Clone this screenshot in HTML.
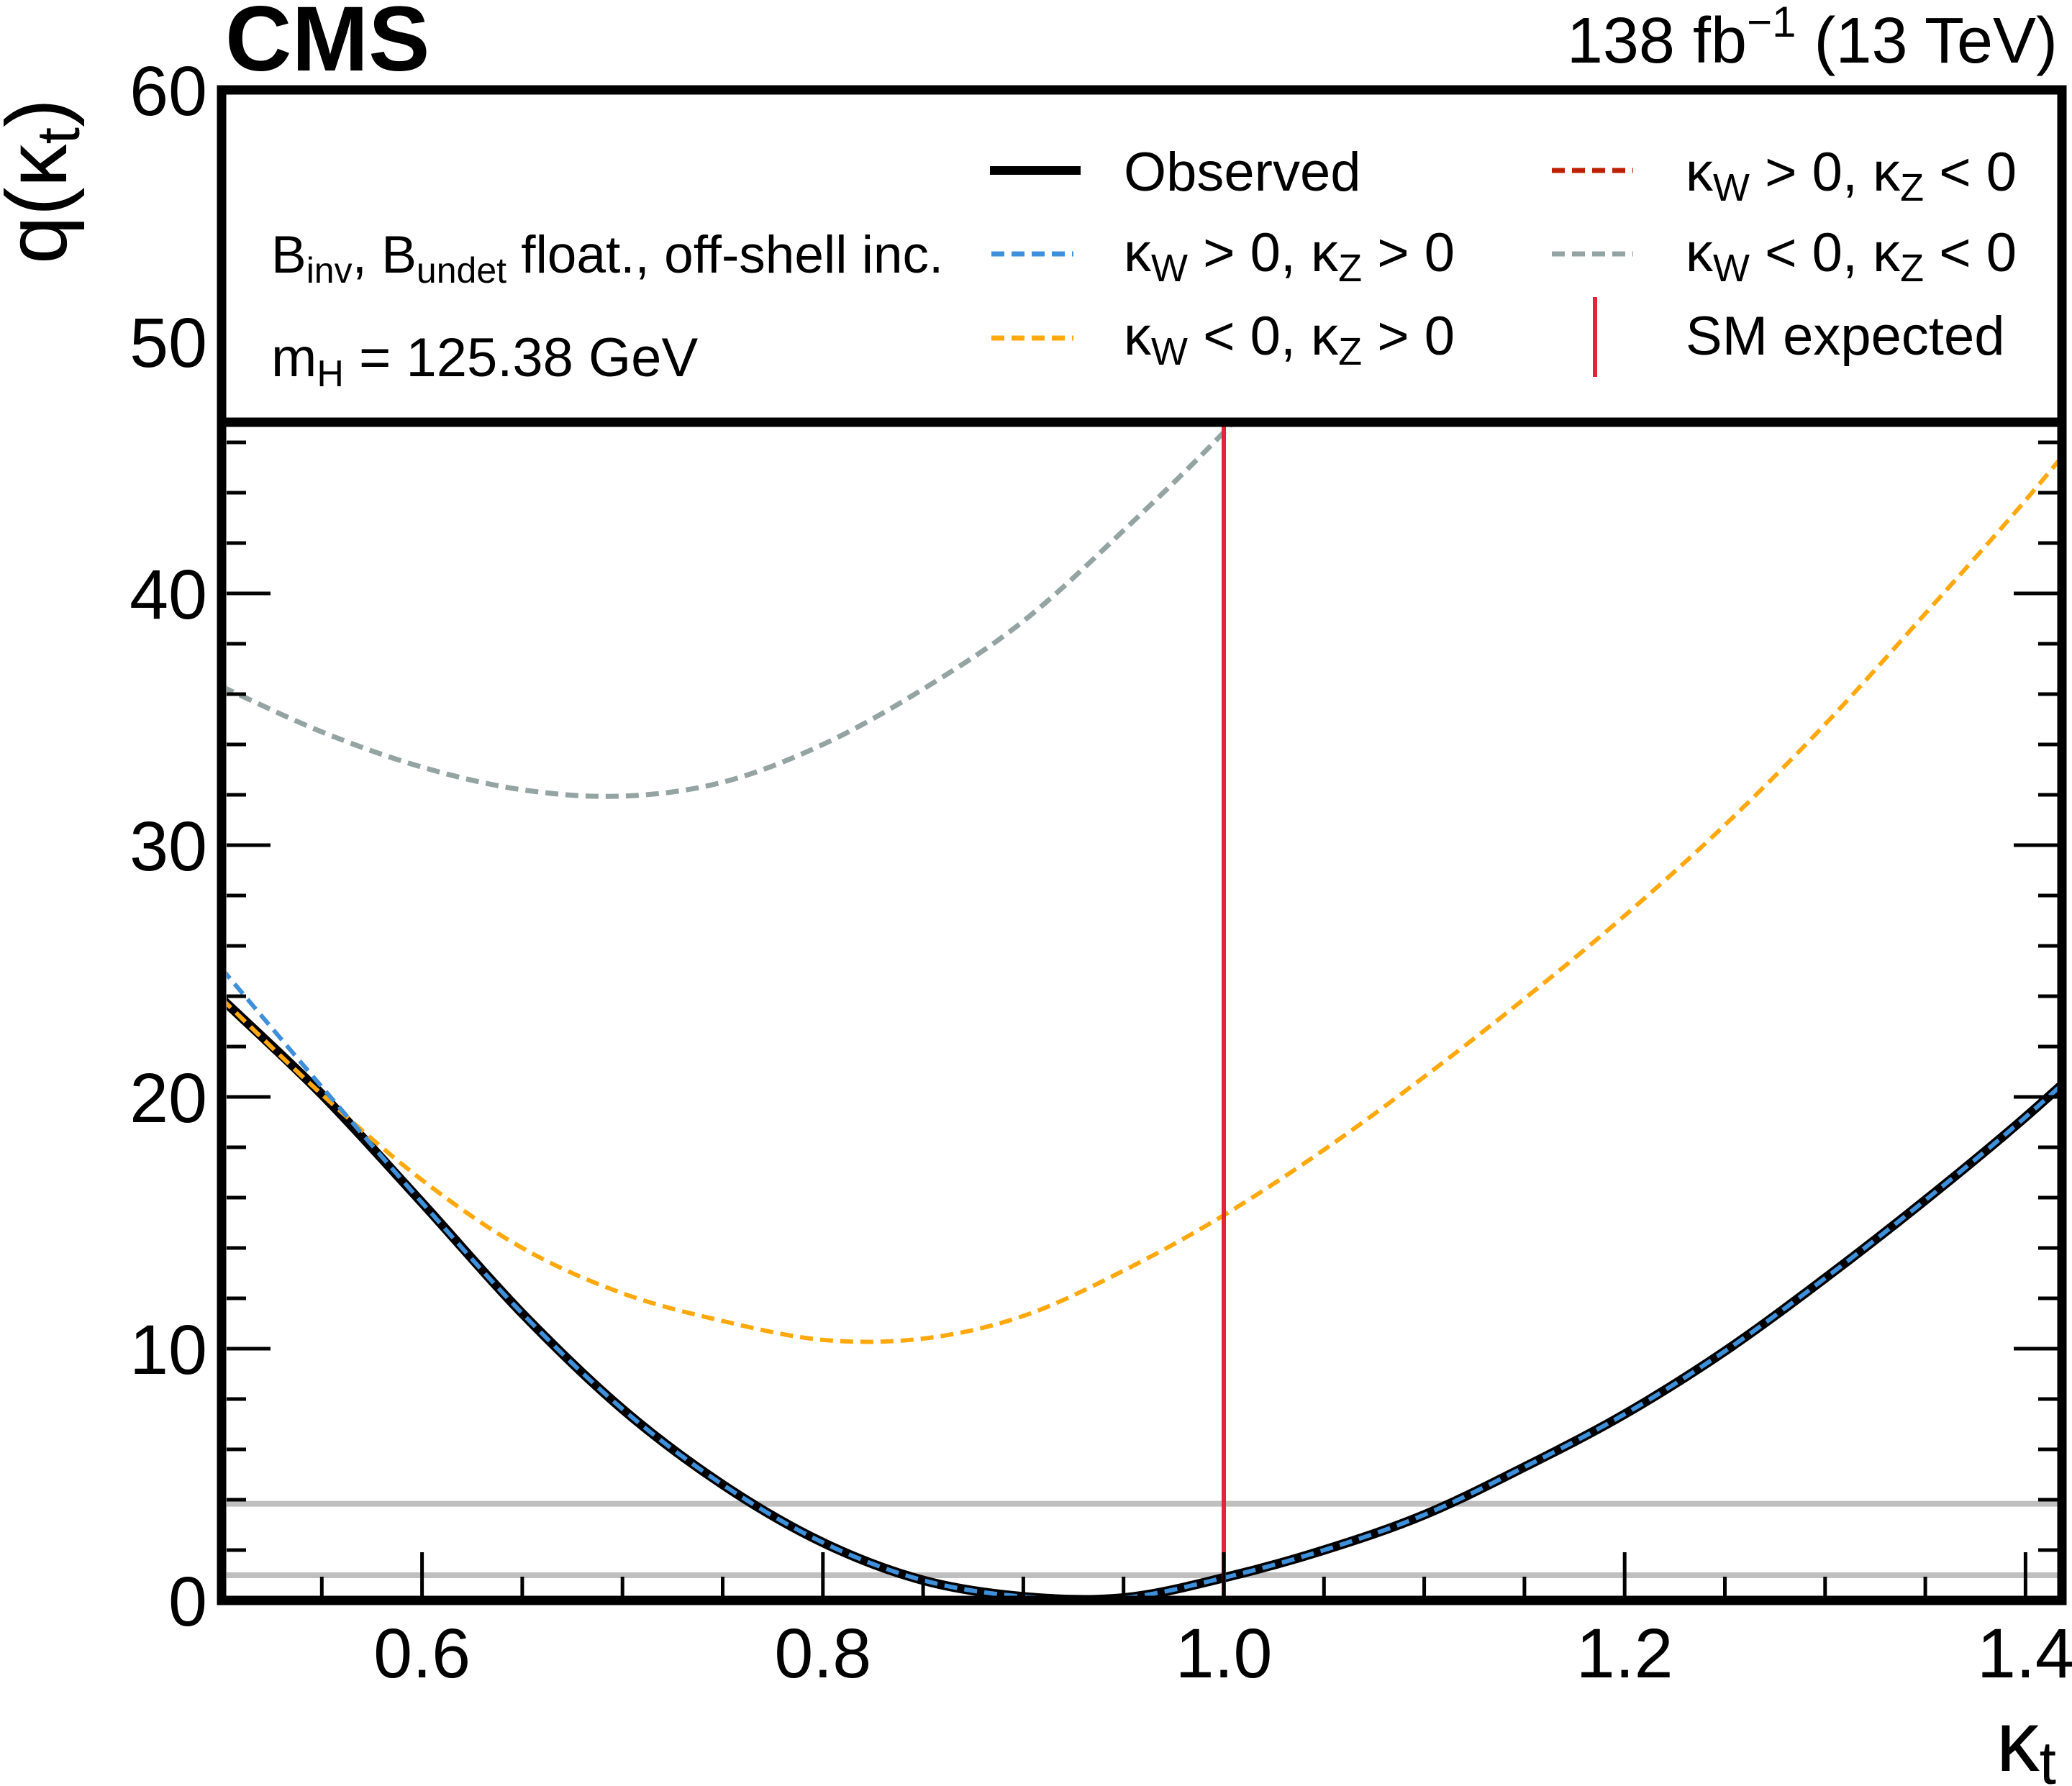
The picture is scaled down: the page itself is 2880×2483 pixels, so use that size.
<!DOCTYPE html>
<html><head><meta charset="utf-8"><style>
html,body{margin:0;padding:0;background:#fff;}
svg{display:block;font-family:"Liberation Sans",Arial,sans-serif;}
</style></head><body>
<svg id="chart" xmlns="http://www.w3.org/2000/svg" width="2880" height="2483" viewBox="0 0 2880 2483">
<g id="marks"></g>
<g id="axes"></g>
<g id="legend">
  <rect x="308" y="125" width="2558" height="462" fill="#fff" stroke="#000" stroke-width="13"/>
  <text x="377" y="379" font-size="73">B<tspan font-size="50" dy="14">inv</tspan><tspan dy="-14">, B</tspan><tspan font-size="50" dy="14">undet</tspan><tspan dy="-14"> float., off-shell inc.</tspan></text>
  <text x="377" y="523" font-size="76">m<tspan font-size="52" dy="14">H</tspan><tspan dy="-14"> = 125.38 GeV</tspan></text>
  <g>
    <line x1="1376" y1="237" x2="1502" y2="237" stroke="#000" stroke-width="12"/>
    <text x="1562" y="265" font-size="76">Observed</text>
  </g>
  <g>
    <line x1="1378" y1="353" x2="1492" y2="353" stroke="#3f90da" stroke-width="7" stroke-dasharray="18 10"/>
    <text x="1562" y="377" font-size="76">κ<tspan font-size="54" dy="14">W</tspan><tspan dy="-14"> &gt; 0, κ</tspan><tspan font-size="54" dy="14">Z</tspan><tspan dy="-14"> &gt; 0</tspan></text>
  </g>
  <g>
    <line x1="1378" y1="470" x2="1492" y2="470" stroke="#ffa90e" stroke-width="7" stroke-dasharray="18 10"/>
    <text x="1562" y="493" font-size="76">κ<tspan font-size="54" dy="14">W</tspan><tspan dy="-14"> &lt; 0, κ</tspan><tspan font-size="54" dy="14">Z</tspan><tspan dy="-14"> &gt; 0</tspan></text>
  </g>
  <g>
    <line x1="2157" y1="237" x2="2270" y2="237" stroke="#bd1f01" stroke-width="7" stroke-dasharray="18 10"/>
    <text x="2343" y="265" font-size="76">κ<tspan font-size="54" dy="14">W</tspan><tspan dy="-14"> &gt; 0, κ</tspan><tspan font-size="54" dy="14">Z</tspan><tspan dy="-14"> &lt; 0</tspan></text>
  </g>
  <g>
    <line x1="2157" y1="353" x2="2270" y2="353" stroke="#94a4a2" stroke-width="7" stroke-dasharray="18 10"/>
    <text x="2343" y="377" font-size="76">κ<tspan font-size="54" dy="14">W</tspan><tspan dy="-14"> &lt; 0, κ</tspan><tspan font-size="54" dy="14">Z</tspan><tspan dy="-14"> &lt; 0</tspan></text>
  </g>
  <g>
    <line x1="2217" y1="413" x2="2217" y2="524" stroke="#e42536" stroke-width="6"/>
    <text x="2343" y="493" font-size="76">SM expected</text>
  </g>
</g>
<rect x="308" y="125" width="2558" height="2100" fill="none" stroke="#000" stroke-width="13"/>
<text x="313" y="98" font-size="128" font-weight="bold">CMS</text>
<text x="2860" y="87" font-size="90" text-anchor="end">138 fb<tspan font-size="60" dy="-36">−1</tspan><tspan dy="36"> (13 TeV)</tspan></text>
<text transform="translate(92,137) rotate(-90)" font-size="120" text-anchor="end">q(κ<tspan font-size="84" dy="18">t</tspan><tspan dy="-18">)</tspan></text>
<text x="2858" y="2462" font-size="120" text-anchor="end">κ<tspan font-size="84" dy="18">t</tspan></text>
</svg>
<script>
const xCats = [0.50,0.55,0.60,0.65,0.70,0.75,0.80,0.85,0.90,0.95,1.00,1.05,1.10,1.15,1.20,1.25,1.30,1.35,1.40,1.45];
const observed = [23.9,20.1,15.8,11.4,7.6,4.6,2.3,0.8,0.15,0.1,0.9,2.0,3.4,5.3,7.4,9.9,12.8,15.9,19.2,22.8];
const wposZpos = [25.1,20.4,15.8,11.4,7.6,4.6,2.3,0.8,0.15,0.1,0.9,2.0,3.4,5.3,7.4,9.9,12.8,15.9,19.2,22.8];
const wnegZposX = [0.50,0.55,0.60,0.65,0.70,0.75,0.80,0.85,0.90,0.95,1.00,1.05,1.10,1.15,1.20,1.25,1.30,1.35,1.40,1.45];
const wnegZpos = [23.9,20.1,16.7,14.0,12.2,11.1,10.35,10.4,11.3,13.1,15.3,17.9,20.8,23.9,27.2,30.8,34.8,39.2,43.7,48.5];
const wnegZnegX = [0.50,0.55,0.60,0.65,0.70,0.75,0.80,0.85,0.90,0.95,1.00,1.05,1.10];
const wnegZneg = [36.3,34.5,33.1,32.2,31.95,32.5,34.0,36.2,38.9,42.5,46.4,50.8,55.6];
const wposZnegX = [0.50,0.70,0.90,1.10,1.30,1.45];
const wposZneg = [75,68,64,66,72,78];
const thresholds = [1.0,3.84];
const smValue = [1.0];
const yTicks = [0,10,20,30,40,50,60];
const xTicks = [0.6,0.8,1.0,1.2,1.4];
const xTickLabels = ["0.6","0.8","1.0","1.2","1.4"];

const X0=308, XS=2786;
const Y0=2225, YS=35;
function sx(v){return X0+(v-0.5)*XS;}
function sy(v){return Y0-v*YS;}
const NS="http://www.w3.org/2000/svg";
function mk(tag,attrs,parent){const e=document.createElementNS(NS,tag);for(const k in attrs)e.setAttribute(k,attrs[k]);parent.appendChild(e);return e;}
const marks=document.getElementById('marks');
const axes=document.getElementById('axes');
const defs=mk('defs',{},marks);
const cp=mk('clipPath',{id:'plotclip'},defs);
mk('rect',{x:315,y:587,width:2545,height:1632},cp);
const g=mk('g',{'clip-path':'url(#plotclip)'},marks);

thresholds.forEach(function(t){
  const l=mk('line',{x1:315,x2:2860,y1:sy(t),y2:sy(t),stroke:'#bfbfbf','stroke-width':8},g);
  
  
});
function smoothPath(xs,ys){
  const P=xs.map(function(x,i){return [sx(x),sy(ys[i])];});
  let d='M'+P[0][0].toFixed(1)+','+P[0][1].toFixed(1);
  for(let i=0;i<P.length-1;i++){
    const p0=P[Math.max(0,i-1)],p1=P[i],p2=P[i+1],p3=P[Math.min(P.length-1,i+2)];
    const c1=[p1[0]+(p2[0]-p0[0])/6,p1[1]+(p2[1]-p0[1])/6];
    const c2=[p2[0]-(p3[0]-p1[0])/6,p2[1]-(p3[1]-p1[1])/6];
    d+='C'+c1[0].toFixed(1)+','+c1[1].toFixed(1)+' '+c2[0].toFixed(1)+','+c2[1].toFixed(1)+' '+p2[0].toFixed(1)+','+p2[1].toFixed(1);
  }
  return d;
}
const s1=mk('path',{d:smoothPath(wnegZnegX,wnegZneg),fill:'none',stroke:'#94a4a2','stroke-width':7,'stroke-dasharray':'18 10'},g);


const s2=mk('path',{d:smoothPath(wposZnegX,wposZneg),fill:'none',stroke:'#bd1f01','stroke-width':7,'stroke-dasharray':'18 10'},g);


const s3=mk('path',{d:smoothPath(xCats,observed),fill:'none',stroke:'#000','stroke-width':13},g);


const s4=mk('path',{d:smoothPath(wnegZposX,wnegZpos),fill:'none',stroke:'#ffa90e','stroke-width':6,'stroke-dasharray':'18 10'},g);


const s5=mk('path',{d:smoothPath(xCats,wposZpos),fill:'none',stroke:'#3f90da','stroke-width':6,'stroke-dasharray':'18 10'},g);


const sm=mk('line',{x1:sx(smValue[0]),x2:sx(smValue[0]),y1:587,y2:2219,stroke:'#e42536','stroke-width':6},g);



for(let v=0;v<=60.001;v+=2){
  const y=sy(v); if(y<590) continue;
  const major=Math.abs(v%10)<0.01; const len=major?61:27;
  const a=mk('line',{x1:315,x2:315+len,y1:y,y2:y,stroke:'#000','stroke-width':5},axes);
  
  
  const b=mk('line',{x1:2860,x2:2860-len,y1:y,y2:y,stroke:'#000','stroke-width':5},axes);
  
  
}
for(let i=0;i<=18;i++){
  const v=0.5+i*0.05; const x=sx(v); if(x<316||x>2859) continue;
  const major=(i%4===2); const len=major?61:27;
  const t=mk('line',{x1:x,x2:x,y1:2219,y2:2219-len,stroke:'#000','stroke-width':5},axes);
  
  
}
yTicks.forEach(function(v){
  const t=mk('text',{x:288,y:sy(v)+35,'font-size':97,'text-anchor':'end'},axes);
  t.textContent=String(v);
  
  
});
xTicks.forEach(function(v,i){
  const t=mk('text',{x:sx(v),y:2332,'font-size':97,'text-anchor':'middle'},axes);
  t.textContent=xTickLabels[i];
  
  
});
</script>
</body></html>
